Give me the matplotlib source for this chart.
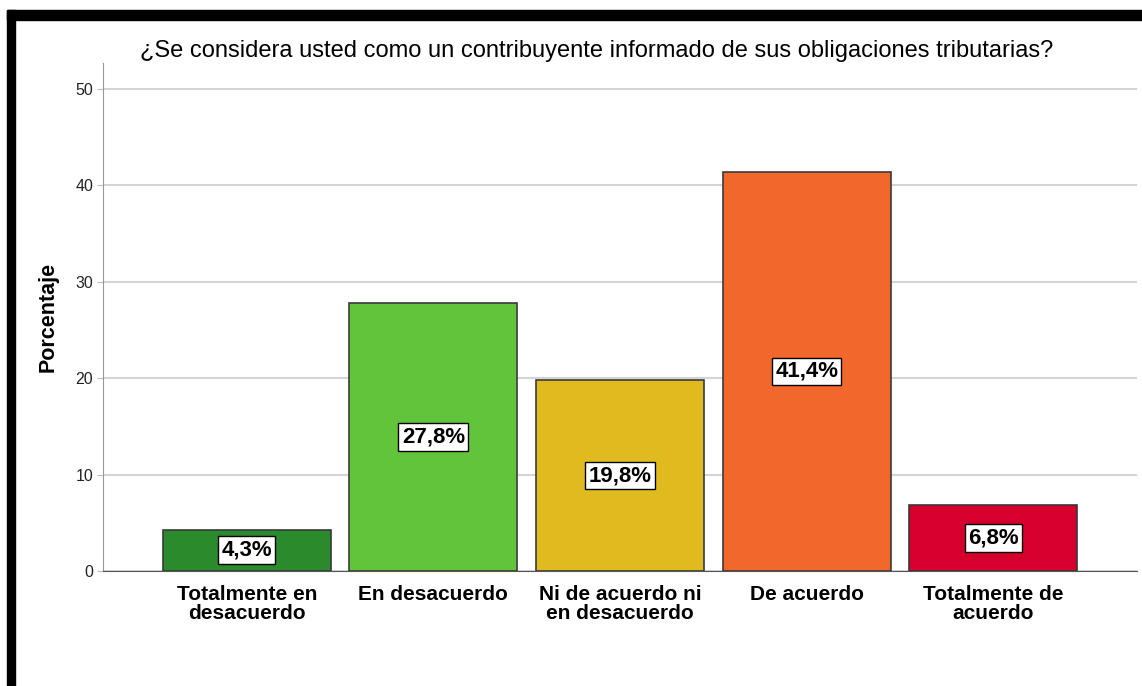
import matplotlib
matplotlib.use("Agg")
import matplotlib.pyplot as plt
from matplotlib.patches import Rectangle

categories = ["Totalmente en\ndesacuerdo", "En desacuerdo", "Ni de acuerdo ni\nen desacuerdo",
              "De acuerdo", "Totalmente de\nacuerdo"]
values = [4.3, 27.8, 19.8, 41.4, 6.8]
labels = ["4,3%", "27,8%", "19,8%", "41,4%", "6,8%"]
colors = ["#2b8a2b", "#62c43a", "#e0bb20", "#f2672c", "#d5002b"]
yticks = [0, 10, 20, 30, 40, 50]
title = "¿Se considera usted como un contribuyente informado de sus obligaciones tributarias?"

plt.rcParams['font.family'] = ['Liberation Sans', 'DejaVu Sans']

W, H = 1142, 686
fig = plt.figure(figsize=(W / 100, H / 100), dpi=100)
fig.patch.set_facecolor("white")

# black frame (left and top)
fig.patches.append(Rectangle((7 / W, 0), 8 / W, 1 - 10 / H, transform=fig.transFigure,
                             color="black", zorder=10))
fig.patches.append(Rectangle((7 / W, 1 - 20 / H), 1, 10 / H, transform=fig.transFigure,
                             color="black", zorder=10))

left, right = 103 / W, 1137 / W
bottom, top = 1 - 571 / H, 1 - 63 / H
ax = fig.add_axes([left, bottom, right - left, top - bottom])

x = list(range(len(values)))
bars = ax.bar(x, values, width=0.9, color=colors, edgecolor="#3a3a3a", linewidth=1.2, zorder=3)
for xi, v, lab in zip(x, values, labels):
    ax.text(xi, v / 2, lab, ha="center", va="center", fontsize=16, fontweight="bold",
            zorder=5, bbox=dict(boxstyle="square,pad=0.15", facecolor="white",
                                edgecolor="black", linewidth=1.0))

ax.set_xlim(-0.77, 4.77)
ax.set_ylim(0, 52.7)
ax.set_yticks(yticks)
ax.set_yticklabels([str(t) for t in yticks], fontsize=11.5, color="#222222")
ax.set_xticks(x)
ax.set_xticklabels(categories, fontsize=15, fontweight="bold", linespacing=1.0)
ax.tick_params(axis="x", length=0, pad=10)
ax.tick_params(axis="y", length=4, color="#bbbbbb", pad=3)
ax.yaxis.grid(True, color="#d4d4d4", linewidth=1.5, zorder=0)
ax.set_axisbelow(True)
for s in ["top", "right"]:
    ax.spines[s].set_visible(False)
ax.spines["left"].set_color("#999999")
ax.spines["bottom"].set_color("#555555")
ax.set_ylabel("Porcentaje", fontsize=15.5, fontweight="bold", labelpad=12)

fig.text((137 + 1057) / 2 / W, 1 - 51 / H, title, ha="center", va="center", fontsize=17)

fig.savefig("out.png", dpi=100)
